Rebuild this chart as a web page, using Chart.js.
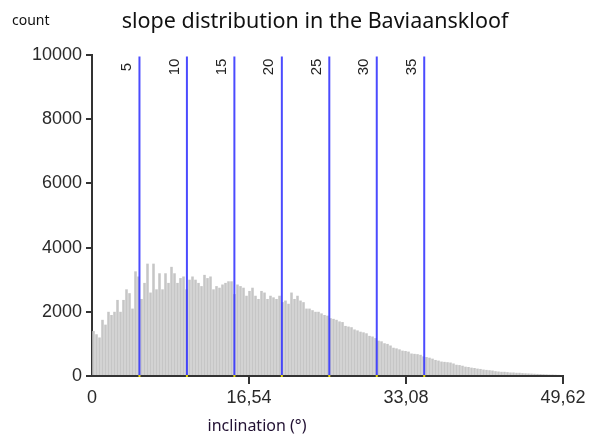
<!DOCTYPE html>
<html><head><meta charset="utf-8">
<script src="https://cdn.jsdelivr.net/npm/chart.js@4.4.0/dist/chart.umd.min.js"></script>
<style>html,body{margin:0;padding:0;background:#fff;} canvas{display:block}</style>
</head><body>
<canvas id="c" width="592" height="439"></canvas>
<script>
// histogram counts per bin, from 0 to 49.62 degrees
const counts = [
 1400,1300,1200,1750,1600,2000,1900,2000,2370,2000,
 2370,2700,2580,2100,3260,3100,2400,2900,3500,2600,
 3500,2700,3200,2700,3200,2900,3400,3200,2900,3050,
 3100,2700,3000,3100,3000,2900,2800,3150,3050,3100,
 2700,2800,2750,2850,2900,2950,2950,2550,2850,2800,
 2750,2500,2650,2750,2500,2400,2650,2600,2400,2500,
 2450,2400,2500,2300,2350,2250,2600,2400,2500,2350,
 2300,2100,2100,2050,2000,2000,1950,1900,1880,1800,
 1780,1750,1700,1680,1560,1540,1520,1450,1420,1380,
 1360,1330,1250,1230,1180,1100,1080,1020,1000,950,
 880,860,830,790,780,760,700,690,680,660,
 610,590,570,540,500,480,450,440,430,420,
 390,350,340,320,290,280,260,250,230,220,
 200,190,180,170,150,140,130,130,120,110,
 110,100,100,90,85,80,75,70,65,60,
 55,50,45,45,40,35,30
];
const xMax = 49.62;
const xTickValues = [0, 16.54, 33.08, 49.62];
const yTickValues = [0, 2000, 4000, 6000, 8000, 10000];
const markerValues = [5, 10, 15, 20, 25, 30, 35];
const titleText = 'slope distribution in the Baviaanskloof';
const yTitleText = 'count';
const xTitleText = 'inclination (°)';

const binWidth = xMax / counts.length;
const barData = counts.map((c, i) => ({x: (i + 0.5) * binWidth, y: c}));

const overlay = {
  id: 'overlay',
  afterDatasetsDraw(chart) {
    const ctx = chart.ctx, xs = chart.scales.x, ys = chart.scales.y;
    const y0 = ys.getPixelForValue(0), yTop = ys.getPixelForValue(9950);
    ctx.save();
    markerValues.forEach(v => {
      const px = xs.getPixelForValue(v);
      ctx.strokeStyle = 'rgba(50,50,255,0.88)';
      ctx.lineWidth = 2;
      ctx.beginPath(); ctx.moveTo(px, y0); ctx.lineTo(px, yTop); ctx.stroke();
      ctx.fillStyle = '#e6d800';
      ctx.fillRect(px - 1, y0 - 1, 2, 2);
      ctx.save();
      ctx.translate(px - 12.5, 67);
      ctx.rotate(-Math.PI / 2);
      ctx.fillStyle = '#222';
      ctx.font = '15px "Liberation Sans"';
      ctx.textAlign = 'center';
      ctx.textBaseline = 'middle';
      ctx.fillText(String(v), 0, 0);
      ctx.restore();
    });
    ctx.restore();
  },
  afterDraw(chart) {
    const ctx = chart.ctx;
    ctx.save();
    ctx.fillStyle = '#111';
    ctx.textBaseline = 'alphabetic';
    ctx.textAlign = 'center';
    ctx.font = '21.5px "Noto Sans"';
    ctx.fillText(titleText, 315, 28);
    ctx.textAlign = 'left';
    ctx.font = '14px "Noto Sans"';
    ctx.fillText(yTitleText, 12, 25);
    ctx.textAlign = 'center';
    ctx.font = '16px "Noto Sans"';
    ctx.fillStyle = '#221133';
    ctx.fillText(xTitleText, 257, 431);
    ctx.restore();
  }
};

new Chart(document.getElementById('c').getContext('2d'), {
  type: 'bar',
  data: {datasets: [{
    data: barData,
    backgroundColor: '#c6c6c6',
    barPercentage: 0.85,
    categoryPercentage: 1,
    grouped: false
  }]},
  options: {
    responsive: false,
    animation: false,
    devicePixelRatio: 1,
    layout: {padding: {left: 0, right: 29, top: 55, bottom: 0}},
    plugins: {legend: {display: false}, tooltip: {enabled: false}, title: {display: false}},
    scales: {
      x: {
        type: 'linear', min: 0, max: xMax, offset: false,
        afterBuildTicks: s => { s.ticks = xTickValues.map(v => ({value: v})); },
        afterFit: s => { s.height = 63; },
        grid: {offset: false, drawOnChartArea: false, drawTicks: true, tickLength: 8, lineWidth: 2,
               color: c => (c.tick && c.tick.value === 0) ? 'rgba(0,0,0,0)' : '#333'},
        border: {display: true, color: '#333', width: 2},
        ticks: {autoSkip: false, maxRotation: 0, padding: 3, color: '#2a2a2a',
                font: {family: 'Liberation Sans', size: 18},
                callback: v => String(v).replace('.', ',')}
      },
      y: {
        min: 0, max: 10000,
        afterBuildTicks: s => { s.ticks = yTickValues.map(v => ({value: v})); },
        afterFit: s => { s.width = 92; },
        grid: {drawOnChartArea: false, drawTicks: true, tickLength: 6, lineWidth: 2, color: '#333'},
        border: {display: true, color: '#333', width: 2},
        ticks: {padding: 4, color: '#2a2a2a', font: {family: 'Liberation Sans', size: 18},
                callback: v => String(v)}
      }
    }
  },
  plugins: [overlay]
});
</script>
</body></html>
